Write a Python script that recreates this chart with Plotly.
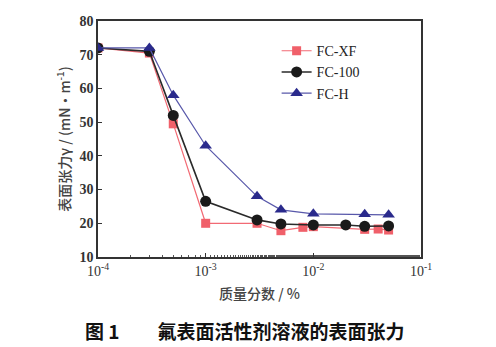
import plotly.graph_objects as go

# Surface tension (mN/m) versus mass fraction (%) for three fluorosurfactants
xf_conc = [1e-4, 3e-4, 5e-4, 1e-3, 3e-3, 5e-3, 8e-3, 1e-2, 3e-2, 4e-2, 5e-2]
xf_tension = [72.0, 70.5, 49.5, 20.0, 20.0, 17.8, 18.8, 19.0, 18.2, 18.3, 18.0]

c100_conc = [1e-4, 3e-4, 5e-4, 1e-3, 3e-3, 5e-3, 1e-2, 2e-2, 3e-2, 5e-2]
c100_tension = [72.0, 71.0, 52.0, 26.5, 21.0, 19.8, 19.5, 19.5, 19.1, 19.2]

h_conc = [1e-4, 3e-4, 5e-4, 1e-3, 3e-3, 5e-3, 1e-2, 3e-2, 5e-2]
h_tension = [72.0, 72.0, 58.0, 43.0, 28.0, 24.0, 22.8, 22.7, 22.5]

x_tick_vals = [1e-4, 1e-3, 1e-2, 1e-1]
x_tick_text = ["10<sup>-4</sup>", "10<sup>-3</sup>", "10<sup>-2</sup>", "10<sup>-1</sup>"]
y_tick_vals = [10, 20, 30, 40, 50, 60, 70, 80]

serif = "Liberation Serif, Times New Roman, serif"
cjk = "Noto Sans CJK SC"

fig = go.Figure()
fig.add_trace(go.Scatter(
    x=xf_conc, y=xf_tension, name="FC-XF", mode="lines+markers",
    line=dict(color="#f26a74", width=1.2),
    marker=dict(symbol="square", size=9, color="#f0606a"),
))
fig.add_trace(go.Scatter(
    x=c100_conc, y=c100_tension, name="FC-100", mode="lines+markers",
    line=dict(color="#2a2a2a", width=1.6),
    marker=dict(symbol="circle", size=11, color="#1a1a1a"),
))
fig.add_trace(go.Scatter(
    x=h_conc, y=h_tension, name="FC-H", mode="lines+markers",
    line=dict(color="#5858aa", width=1.2),
    marker=dict(symbol="triangle-up", size=11, color="#2a2a8c"),
))

fig.update_layout(
    width=496, height=347,
    margin=dict(l=98, r=75, t=21, b=90),
    paper_bgcolor="white", plot_bgcolor="white",
    font=dict(family=serif, color="#222222", size=12),
    showlegend=True,
    legend=dict(
        x=0.553, y=0.94, xanchor="left", yanchor="top",
        bgcolor="rgba(0,0,0,0)", font=dict(family=serif, size=14, color="#222"),
        tracegroupgap=0, itemwidth=30,
    ),
    xaxis=dict(
        type="log", range=[-4, -1],
        tickvals=x_tick_vals, ticktext=x_tick_text,
        ticks="inside", ticklen=4, tickcolor="#333",
        minor=dict(ticks="inside", ticklen=2, tickcolor="#555", showgrid=False),
        showline=True, linecolor="#333", linewidth=1.6, mirror=True,
        showgrid=False, zeroline=False,
        tickfont=dict(family=serif, size=14, color="#333"),
        title=dict(text="质量分数 / %", font=dict(family=cjk, size=14, color="#444", weight=500), standoff=12),
    ),
    yaxis=dict(
        range=[10, 80], tickvals=y_tick_vals,
        ticks="inside", ticklen=4, tickcolor="#333",
        showline=True, linecolor="#333", linewidth=1.6, mirror=True,
        showgrid=False, zeroline=False,
        tickfont=dict(family=serif, size=14, color="#333", weight="bold"),
        title=dict(text="表面张力γ / (mN·m<sup>-1</sup>)", font=dict(family=cjk, size=14, color="#444", weight=500), standoff=6),
    ),
)

fig.add_annotation(
    text="<b>图 1\u2003\u2003氟表面活性剂溶液的表面张力</b>",
    xref="paper", yref="paper", x=0.455, y=-0.31, xanchor="center", yanchor="middle",
    showarrow=False, font=dict(family=cjk, size=19, color="#111"),
)

fig.write_html("out.html")
